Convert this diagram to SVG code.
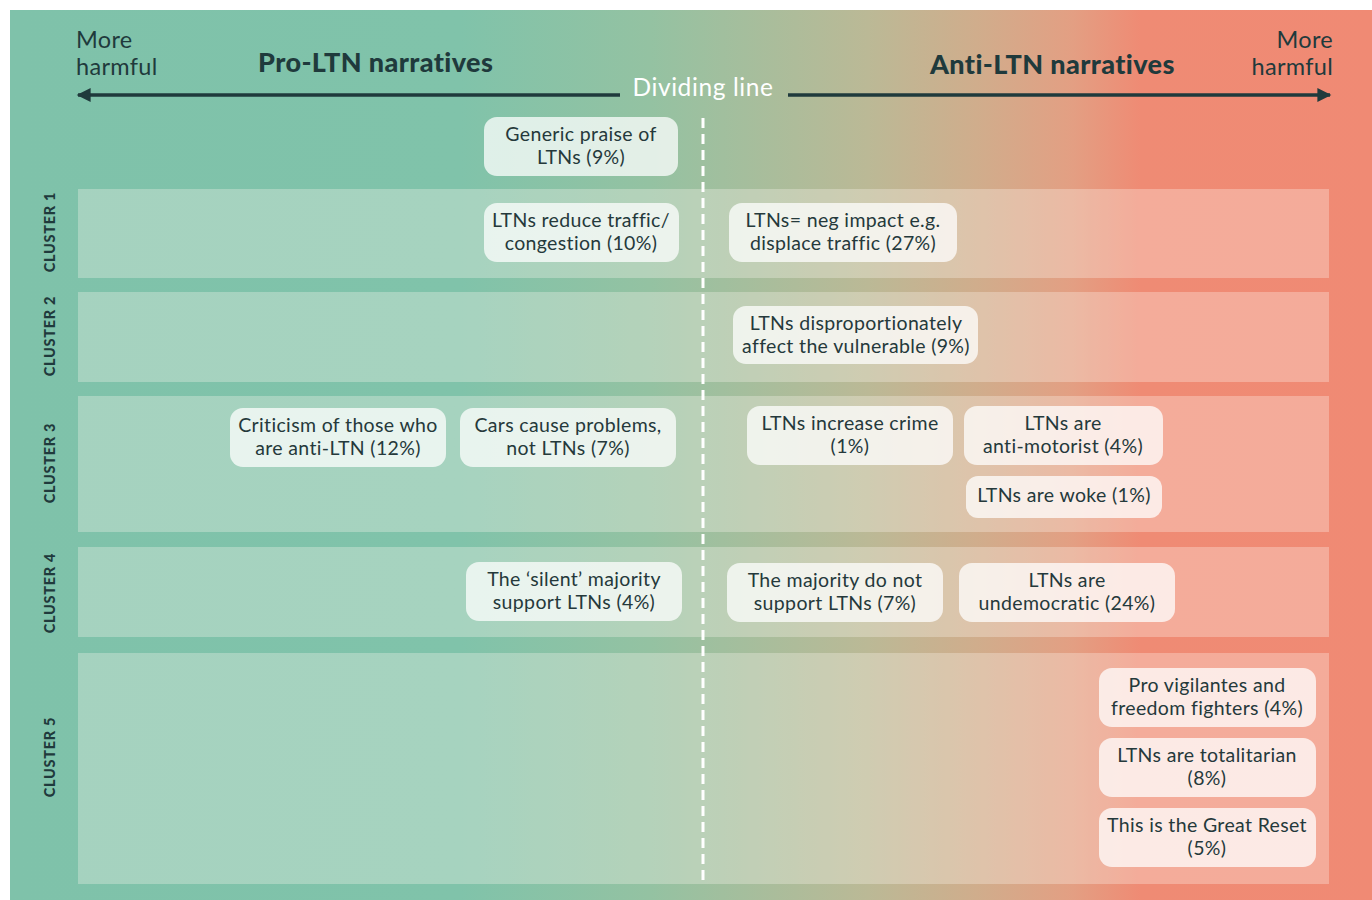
<svg xmlns="http://www.w3.org/2000/svg" width="1372" height="900" viewBox="0 0 1372 900">
<defs>
<linearGradient id="bg" gradientUnits="userSpaceOnUse" x1="10" y1="0" x2="1372" y2="0">
<stop offset="0" stop-color="#7fc2aa"/>
<stop offset="0.33" stop-color="#80c3aa"/>
<stop offset="0.47" stop-color="#94c2a2"/>
<stop offset="0.63" stop-color="#bbb996"/>
<stop offset="0.71" stop-color="#d0ad8c"/>
<stop offset="0.78" stop-color="#e39f83"/>
<stop offset="0.83" stop-color="#ef8b74"/>
<stop offset="1" stop-color="#f08a74"/>
</linearGradient>
<marker id="ah" viewBox="0 0 10 10" refX="9" refY="5" markerWidth="4.5" markerHeight="4" markerUnits="strokeWidth" orient="auto-start-reverse">
<path d="M0,0 L10,5 L0,10 z" fill="#1f3a3c"/>
</marker>
<style>
.band{fill:#fffaf2;fill-opacity:0.3}
.box{fill:#ffffff;fill-opacity:0.74}
.t{font-family:Lato,"Liberation Sans",sans-serif;font-size:19.5px;letter-spacing:0.35px;fill:#25393b;text-anchor:middle}
.cl{font-family:Lato,"Liberation Sans",sans-serif;font-size:14.5px;font-weight:900;fill:#1f3a3c;text-anchor:middle;letter-spacing:0.7px}
.hd{font-family:Lato,"Liberation Sans",sans-serif;font-size:23.5px;letter-spacing:0.3px;fill:#1f3a3c}
.hb{font-family:Lato,"Liberation Sans",sans-serif;font-size:27px;font-weight:900;letter-spacing:0.4px;fill:#1f3a3c}
.dv{font-family:Lato,"Liberation Sans",sans-serif;font-size:24.5px;letter-spacing:0.6px;fill:#ffffff;text-anchor:middle}
</style>
</defs>
<rect x="0" y="0" width="1372" height="900" fill="#ffffff"/>
<rect x="10" y="10" width="1362" height="890" fill="url(#bg)"/>
<g id="bands">
<rect class="band" x="78" y="189" width="1251" height="89"/>
<rect class="band" x="78" y="292" width="1251" height="90"/>
<rect class="band" x="78" y="396" width="1251" height="136"/>
<rect class="band" x="78" y="547" width="1251" height="90"/>
<rect class="band" x="78" y="653" width="1251" height="231"/>
</g>
<g id="cluster-labels">
<text class="cl" transform="translate(55,232) rotate(-90)">CLUSTER 1</text>
<text class="cl" transform="translate(55,336) rotate(-90)">CLUSTER 2</text>
<text class="cl" transform="translate(55,463) rotate(-90)">CLUSTER 3</text>
<text class="cl" transform="translate(55,593) rotate(-90)">CLUSTER 4</text>
<text class="cl" transform="translate(55,757) rotate(-90)">CLUSTER 5</text>
</g>
<g id="header">
<text class="hd" x="76" y="48">More</text>
<text class="hd" x="76" y="75">harmful</text>
<text class="hd" x="1333" y="48" text-anchor="end">More</text>
<text class="hd" x="1333" y="75" text-anchor="end">harmful</text>
<text class="hb" x="258" y="72">Pro-LTN narratives</text>
<text class="hb" x="930" y="74">Anti-LTN narratives</text>
<text class="dv" x="703" y="96">Dividing line</text>
</g>
<g id="connectors">
<line x1="620" y1="95" x2="78" y2="95" stroke="#1f3a3c" stroke-width="3.5" marker-end="url(#ah)"/>
<line x1="788" y1="95" x2="1330" y2="95" stroke="#1f3a3c" stroke-width="3.5" marker-end="url(#ah)"/>
<line x1="703" y1="118" x2="703" y2="880" stroke="#ffffff" stroke-width="3" stroke-dasharray="10,6"/>
</g>
<g id="n1"><rect class="box" x="484" y="117" width="194" height="59" rx="13"/><text class="t" x="581" y="141">Generic praise of</text><text class="t" x="581" y="164">LTNs (9%)</text></g>
<g id="n2"><rect class="box" x="484" y="203" width="195" height="59" rx="13"/><text class="t" x="581" y="227">LTNs reduce traffic/</text><text class="t" x="581" y="250">congestion (10%)</text></g>
<g id="n3"><rect class="box" x="729" y="203" width="228" height="59" rx="13"/><text class="t" x="843" y="227">LTNs= neg impact e.g.</text><text class="t" x="843" y="250">displace traffic (27%)</text></g>
<g id="n4"><rect class="box" x="733" y="306" width="245" height="58" rx="13"/><text class="t" x="856" y="330">LTNs disproportionately</text><text class="t" x="856" y="353">affect the vulnerable (9%)</text></g>
<g id="n5"><rect class="box" x="747" y="406" width="206" height="59" rx="13"/><text class="t" x="850" y="430">LTNs increase crime</text><text class="t" x="850" y="453">(1%)</text></g>
<g id="n6"><rect class="box" x="964" y="406" width="199" height="59" rx="13"/><text class="t" x="1063" y="430">LTNs are</text><text class="t" x="1063" y="453">anti-motorist (4%)</text></g>
<g id="n7"><rect class="box" x="966" y="476" width="196" height="42" rx="12"/><text class="t" x="1064" y="502">LTNs are woke (1%)</text></g>
<g id="n8"><rect class="box" x="727" y="563" width="216" height="59" rx="13"/><text class="t" x="835" y="587">The majority do not</text><text class="t" x="835" y="610">support LTNs (7%)</text></g>
<g id="n9"><rect class="box" x="959" y="563" width="216" height="59" rx="13"/><text class="t" x="1067" y="587">LTNs are</text><text class="t" x="1067" y="610">undemocratic (24%)</text></g>
<g id="n10"><rect class="box" x="230" y="408" width="216" height="59" rx="13"/><text class="t" x="338" y="432">Criticism of those who</text><text class="t" x="338" y="455">are anti-LTN (12%)</text></g>
<g id="n11"><rect class="box" x="460" y="408" width="216" height="59" rx="13"/><text class="t" x="568" y="432">Cars cause problems,</text><text class="t" x="568" y="455">not LTNs (7%)</text></g>
<g id="n12"><rect class="box" x="466" y="562" width="216" height="59" rx="13"/><text class="t" x="574" y="586">The ‘silent’ majority</text><text class="t" x="574" y="609">support LTNs (4%)</text></g>
<g id="n13"><rect class="box" x="1099" y="668" width="217" height="59" rx="13"/><text class="t" x="1207" y="692">Pro vigilantes and</text><text class="t" x="1207" y="715">freedom fighters (4%)</text></g>
<g id="n14"><rect class="box" x="1099" y="738" width="217" height="59" rx="13"/><text class="t" x="1207" y="762">LTNs are totalitarian</text><text class="t" x="1207" y="785">(8%)</text></g>
<g id="n15"><rect class="box" x="1099" y="808" width="217" height="59" rx="13"/><text class="t" x="1207" y="832">This is the Great Reset</text><text class="t" x="1207" y="855">(5%)</text></g>
</svg>
